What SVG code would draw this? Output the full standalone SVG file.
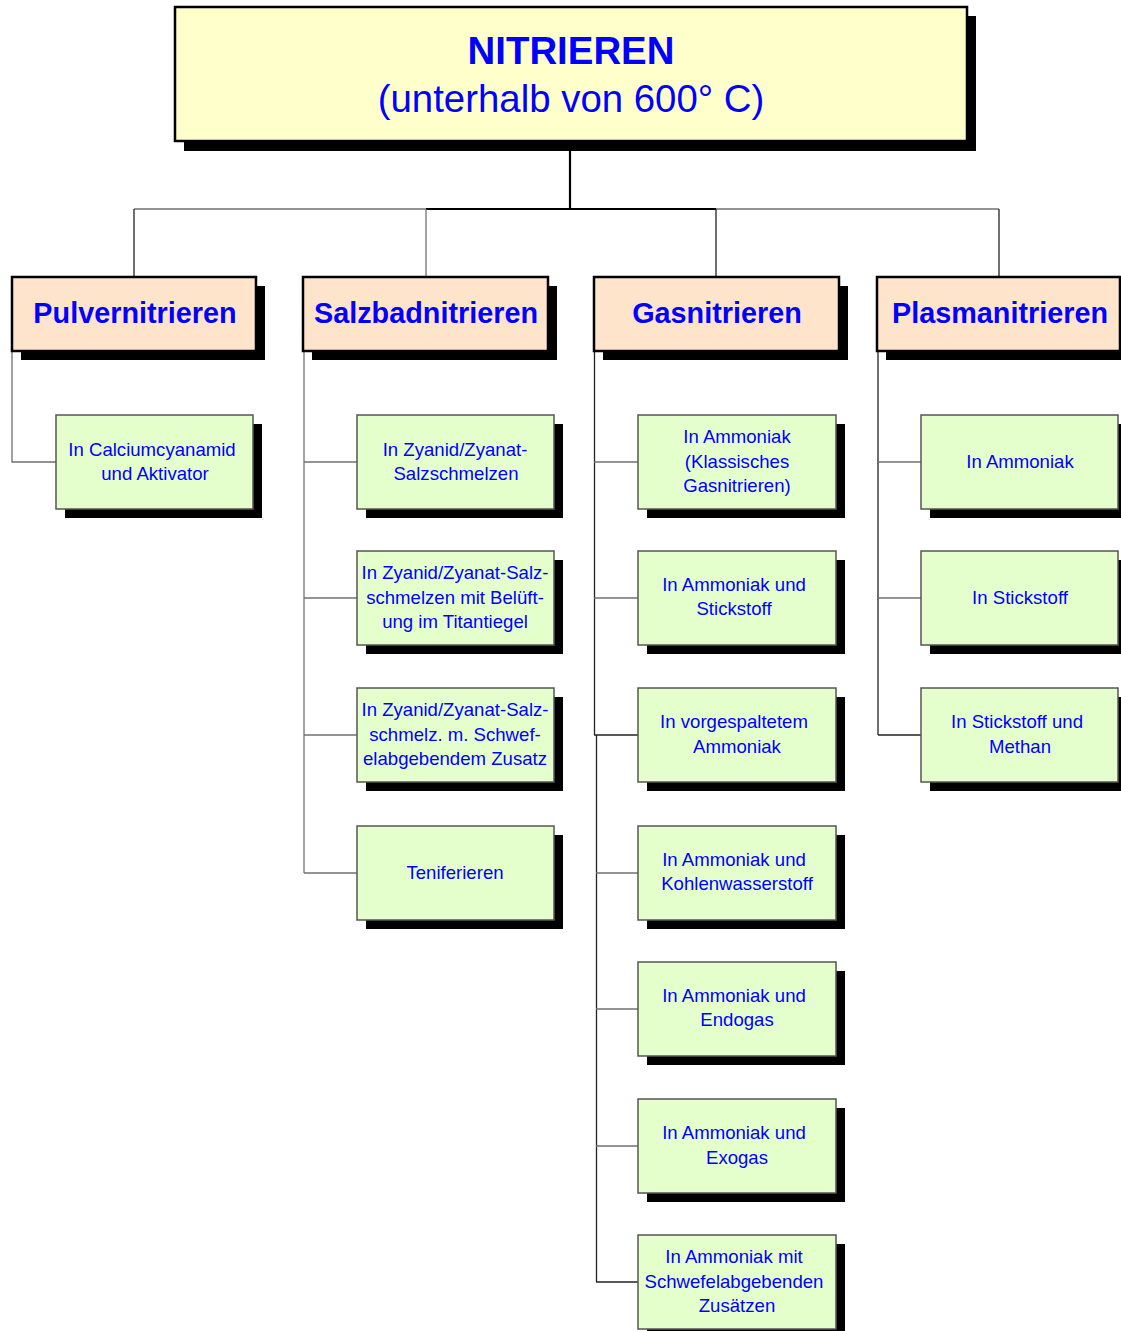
<svg xmlns="http://www.w3.org/2000/svg" width="1121" height="1331" viewBox="0 0 1121 1331">
<style>
text { font-family: "Liberation Sans", Arial, sans-serif; fill: #0000FF; text-anchor: middle; }
.title { font-size: 38.4px; }
.bold { font-weight: bold; }
.cat { font-size: 28.8px; font-weight: bold; }
.sub { font-size: 18.6px; }
.shadow { fill: #000000; }
.mainbox { fill: #FFFFCC; stroke: #000000; stroke-width: 2.5; }
.catbox { fill: #FFE4CC; stroke: #000000; stroke-width: 2.5; }
.subbox { fill: #E5FFCC; stroke: #555555; stroke-width: 1.5; }
.ln { fill: none; stroke: #707070; stroke-width: 1.3; }
.dk { fill: none; stroke: #222222; stroke-width: 1.3; }
.thick { fill: none; stroke: #000000; stroke-width: 2.2; }
</style>
<rect width="1121" height="1331" fill="#FFFFFF"/>

<g id="connectors">
  <line class="thick" x1="570" y1="141" x2="570" y2="209"/>
  <line class="ln" x1="134" y1="209" x2="426" y2="209"/>
  <line class="thick" x1="426" y1="209" x2="716" y2="209"/>
  <line class="ln" x1="716" y1="209" x2="999" y2="209"/>
  <line class="dk" x1="134" y1="209" x2="134" y2="277"/>
  <line class="ln" x1="426" y1="209" x2="426" y2="277"/>
  <line class="dk" x1="716" y1="209" x2="716" y2="277"/>
  <line class="dk" x1="999" y1="209" x2="999" y2="277"/>
  <polyline class="ln" points="12,351 12,462 56,462"/>
  <line class="ln" x1="304" y1="351" x2="304" y2="873"/>
  <line class="ln" x1="304" y1="462" x2="357" y2="462"/>
  <line class="ln" x1="304" y1="598" x2="357" y2="598"/>
  <line class="ln" x1="304" y1="735" x2="357" y2="735"/>
  <line class="ln" x1="304" y1="873" x2="357" y2="873"/>
  <line class="dk" x1="594.5" y1="351" x2="594.5" y2="735"/>
  <line class="dk" x1="596.5" y1="735" x2="596.5" y2="1282"/>
  <line class="ln" x1="594" y1="462" x2="638" y2="462"/>
  <line class="ln" x1="594" y1="598" x2="638" y2="598"/>
  <line class="dk" x1="594" y1="735" x2="638" y2="735"/>
  <line class="ln" x1="596" y1="873" x2="638" y2="873"/>
  <line class="ln" x1="596" y1="1009" x2="638" y2="1009"/>
  <line class="ln" x1="596" y1="1146" x2="638" y2="1146"/>
  <line class="dk" x1="596" y1="1282" x2="638" y2="1282"/>
  <line class="dk" x1="878" y1="351" x2="878" y2="735"/>
  <line class="ln" x1="878" y1="462" x2="921" y2="462"/>
  <line class="ln" x1="878" y1="598" x2="921" y2="598"/>
  <line class="dk" x1="878" y1="735" x2="921" y2="735"/>
</g>

<g id="root">
  <rect class="shadow" x="184" y="16" width="792" height="135"/>
  <rect class="mainbox" x="175" y="7" width="792" height="134"/>
  <text class="title bold" x="571" y="64">NITRIEREN</text>
  <text class="title" x="571" y="112">(unterhalb von 600° C)</text>
</g>

<g id="pulvernitrieren">
  <rect class="shadow" x="21" y="286" width="244" height="74"/>
  <rect class="catbox" x="12" y="277" width="244" height="74"/>
  <text class="cat" x="135" y="323">Pulvernitrieren</text>
</g>
<g id="salzbadnitrieren">
  <rect class="shadow" x="312" y="286" width="245" height="74"/>
  <rect class="catbox" x="303" y="277" width="245" height="74"/>
  <text class="cat" x="426" y="323">Salzbadnitrieren</text>
</g>
<g id="gasnitrieren">
  <rect class="shadow" x="603" y="286" width="245" height="74"/>
  <rect class="catbox" x="594" y="277" width="245" height="74"/>
  <text class="cat" x="717" y="323">Gasnitrieren</text>
</g>
<g id="plasmanitrieren">
  <rect class="shadow" x="886" y="286" width="244" height="74"/>
  <rect class="catbox" x="877" y="277" width="243" height="74"/>
  <text class="cat" x="1000" y="323">Plasmanitrieren</text>
</g>

<g id="p1">
  <rect class="shadow" x="65" y="424" width="197" height="94"/>
  <rect class="subbox" x="56" y="415" width="197" height="94"/>
  <text class="sub" x="152" y="456">In Calciumcyanamid</text>
  <text class="sub" x="155" y="480">und Aktivator</text>
</g>

<g id="s1">
  <rect class="shadow" x="366" y="424" width="197" height="94"/>
  <rect class="subbox" x="357" y="415" width="197" height="94"/>
  <text class="sub" x="455" y="456">In Zyanid/Zyanat-</text>
  <text class="sub" x="456" y="480">Salzschmelzen</text>
</g>
<g id="s2">
  <rect class="shadow" x="366" y="560" width="197" height="94"/>
  <rect class="subbox" x="357" y="551" width="197" height="94"/>
  <text class="sub" x="455" y="579">In Zyanid/Zyanat-Salz-</text>
  <text class="sub" x="455" y="604">schmelzen mit Belüft-</text>
  <text class="sub" x="455" y="628">ung im Titantiegel</text>
</g>
<g id="s3">
  <rect class="shadow" x="366" y="697" width="197" height="94"/>
  <rect class="subbox" x="357" y="688" width="197" height="94"/>
  <text class="sub" x="455" y="716">In Zyanid/Zyanat-Salz-</text>
  <text class="sub" x="455" y="741">schmelz. m. Schwef-</text>
  <text class="sub" x="455" y="765">elabgebendem Zusatz</text>
</g>
<g id="s4">
  <rect class="shadow" x="366" y="835" width="197" height="94"/>
  <rect class="subbox" x="357" y="826" width="197" height="94"/>
  <text class="sub" x="455" y="879">Teniferieren</text>
</g>

<g id="g1">
  <rect class="shadow" x="647" y="424" width="198" height="94"/>
  <rect class="subbox" x="638" y="415" width="198" height="94"/>
  <text class="sub" x="737" y="443">In Ammoniak</text>
  <text class="sub" x="737" y="468">(Klassisches</text>
  <text class="sub" x="737" y="492">Gasnitrieren)</text>
</g>
<g id="g2">
  <rect class="shadow" x="647" y="560" width="198" height="94"/>
  <rect class="subbox" x="638" y="551" width="198" height="94"/>
  <text class="sub" x="734" y="591">In Ammoniak und</text>
  <text class="sub" x="734" y="615">Stickstoff</text>
</g>
<g id="g3">
  <rect class="shadow" x="647" y="697" width="198" height="94"/>
  <rect class="subbox" x="638" y="688" width="198" height="94"/>
  <text class="sub" x="734" y="728">In vorgespaltetem</text>
  <text class="sub" x="737" y="753">Ammoniak</text>
</g>
<g id="g4">
  <rect class="shadow" x="647" y="835" width="198" height="94"/>
  <rect class="subbox" x="638" y="826" width="198" height="94"/>
  <text class="sub" x="734" y="866">In Ammoniak und</text>
  <text class="sub" x="737" y="890">Kohlenwasserstoff</text>
</g>
<g id="g5">
  <rect class="shadow" x="647" y="971" width="198" height="94"/>
  <rect class="subbox" x="638" y="962" width="198" height="94"/>
  <text class="sub" x="734" y="1002">In Ammoniak und</text>
  <text class="sub" x="737" y="1026">Endogas</text>
</g>
<g id="g6">
  <rect class="shadow" x="647" y="1108" width="198" height="94"/>
  <rect class="subbox" x="638" y="1099" width="198" height="94"/>
  <text class="sub" x="734" y="1139">In Ammoniak und</text>
  <text class="sub" x="737" y="1164">Exogas</text>
</g>
<g id="g7">
  <rect class="shadow" x="647" y="1244" width="198" height="94"/>
  <rect class="subbox" x="638" y="1235" width="198" height="94"/>
  <text class="sub" x="734" y="1263">In Ammoniak mit</text>
  <text class="sub" x="734" y="1288">Schwefelabgebenden</text>
  <text class="sub" x="737" y="1312">Zusätzen</text>
</g>

<g id="pl1">
  <rect class="shadow" x="930" y="424" width="197" height="94"/>
  <rect class="subbox" x="921" y="415" width="197" height="94"/>
  <text class="sub" x="1020" y="468">In Ammoniak</text>
</g>
<g id="pl2">
  <rect class="shadow" x="930" y="560" width="197" height="94"/>
  <rect class="subbox" x="921" y="551" width="197" height="94"/>
  <text class="sub" x="1020" y="604">In Stickstoff</text>
</g>
<g id="pl3">
  <rect class="shadow" x="930" y="697" width="197" height="94"/>
  <rect class="subbox" x="921" y="688" width="197" height="94"/>
  <text class="sub" x="1017" y="728">In Stickstoff und</text>
  <text class="sub" x="1020" y="753">Methan</text>
</g>
</svg>
